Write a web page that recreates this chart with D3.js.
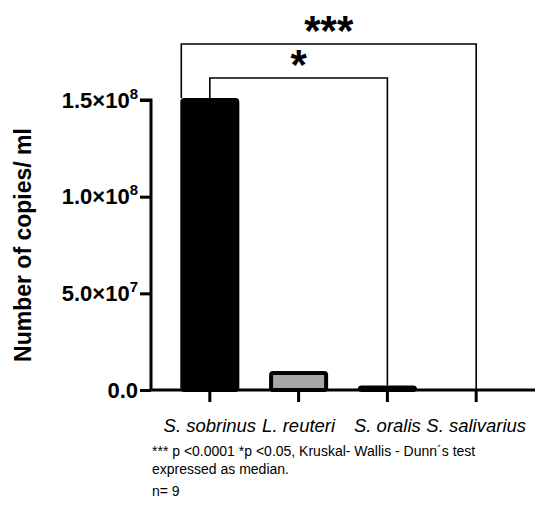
<!DOCTYPE html>
<html><head><meta charset="utf-8">
<script src="https://cdn.jsdelivr.net/npm/d3@7"></script>
<style>body{margin:0;background:#fff}svg{display:block}text{font-family:Arial,"Liberation Sans",Helvetica,sans-serif}</style>
</head><body><svg id="c" width="550" height="507"></svg>
<script>
const categories = ["S. sobrinus", "L. reuteri", "S. oralis", "S. salivarius"];
const values = [1.5e8, 8.8e6, 1.3e6, 0];
const fills = ["#000000", "#a6a6a6", "#000000", "#000000"];
const yTicks = [0, 5e7, 1e8, 1.5e8];
const yTickLabels = [["0.0", ""], ["5.0×10", "7"], ["1.0×10", "8"], ["1.5×10", "8"]];
const comparisons = [
  {from: 0, to: 3, label: "***", level: 44, leftEdge: true},
  {from: 0, to: 2, label: "*", level: 78, leftEdge: false}
];
const footnotes = ["*** p <0.0001 *p <0.05, Kruskal- Wallis - Dunn´s test", "expressed as median.", "n= 9"];

const svg = d3.select("#c");
const x = d3.scaleBand().domain(categories).range([151, 535]).paddingInner(0.335).paddingOuter(0.33);
const y = d3.scaleLinear().domain([0, 1.5e8]).range([390, 100]);

// bars
const sw = 4;
svg.selectAll("rect.bar").data(categories).join("rect")
  .attr("x", d => x(d) + sw/2)
  .attr("width", x.bandwidth() - sw)
  .attr("y", (d,i) => y(values[i]))
  .attr("height", (d,i) => y(0) - y(values[i]))
  .attr("rx", 2)
  .attr("fill", (d,i) => fills[i])
  .attr("stroke", "#000").attr("stroke-width", sw);

// y axis
const yAxis = d3.axisLeft(y).tickValues(yTicks).tickSize(11).tickFormat("");
const gy = svg.append("g").attr("transform", "translate(151,0)").call(yAxis);
gy.select(".domain").attr("stroke-width", 3).attr("d", `M-11,${y(1.5e8)}H0V${y(0)}`);
gy.selectAll(".tick line").attr("stroke-width", 3);
gy.selectAll(".tick").each(function(d) {
  const i = yTicks.indexOf(d);
  const t = d3.select(this).append("text")
    .attr("x", -13).attr("y", 7).attr("text-anchor", "end")
    .attr("font-size", 22).attr("font-weight", "bold").attr("fill", "#000");
  t.append("tspan").text(yTickLabels[i][0]);
  if (yTickLabels[i][1]) t.append("tspan").attr("dy", -9).attr("font-size", 15).text(yTickLabels[i][1]);
});

// x axis
const xAxis = d3.axisBottom(x).tickSize(12).tickFormat("");
const gx = svg.append("g").attr("transform", `translate(0,${y(0)})`).call(xAxis);
gx.select(".domain").attr("stroke-width", 3).attr("d", "M149.5,0H535");
gx.selectAll(".tick line").attr("stroke-width", 3);
gx.selectAll(".tick").append("text")
  .attr("y", 42).attr("text-anchor", "middle")
  .attr("font-size", 18.5).attr("font-style", "italic").attr("fill", "#000")
  .text(d => d);

// brackets
comparisons.forEach(c => {
  const a = categories[c.from], b = categories[c.to];
  const x1 = c.leftEdge ? x(a) + 1 : x(a) + x.bandwidth()/2;
  const x2 = x(b) + x.bandwidth()/2;
  const y1 = y(values[c.from]) - sw/2;
  const y2 = y(values[c.to]) - (values[c.to] > 0 ? sw/2 : 0);
  svg.append("path")
    .attr("d", `M${x1},${y1}V${c.level}H${x2}V${y2}`)
    .attr("fill", "none").attr("stroke", "#000").attr("stroke-width", 1.6);
  svg.append("text")
    .attr("x", (x1 + x2)/2)
    .attr("y", c.level - 6)
    .attr("text-anchor", "middle").attr("font-size", 42).attr("font-weight", "bold")
    .attr("fill", "#000").attr("dy", 7)
    .text(c.label);
});

// y axis title
svg.append("text")
  .attr("transform", "translate(31,245) rotate(-90)")
  .attr("text-anchor", "middle").attr("font-size", 23).attr("font-weight", "bold")
  .attr("fill", "#000").text("Number of copies/ ml");

// footnotes
const fy = [456, 474, 496];
footnotes.forEach((t, i) => {
  svg.append("text").attr("x", 152).attr("y", fy[i]).attr("font-size", 14).attr("fill", "#000").text(t);
});
</script></body></html>
